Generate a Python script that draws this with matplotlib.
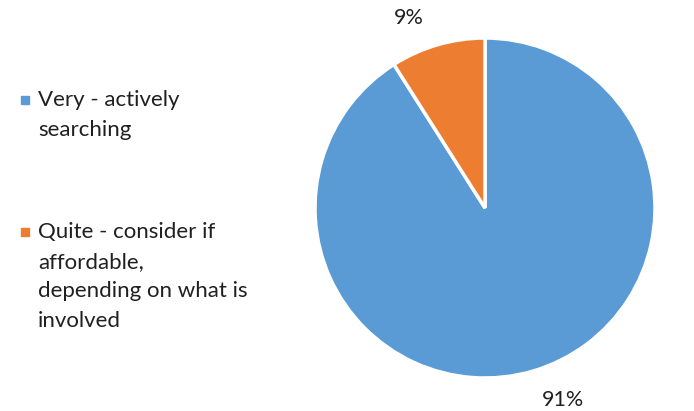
import matplotlib.pyplot as plt
from matplotlib.patches import Rectangle

labels = ['Very - actively\nsearching',
          'Quite - consider if\naffordable,\ndepending on what is\ninvolved']
values = [91, 9]
colors = ['#5B9BD5', '#ED7D31']

W, H = 694, 411
fig = plt.figure(figsize=(W / 100, H / 100), dpi=100)
plt.rcParams['font.family'] = ['Lato', 'DejaVu Sans']

# pie: centre (485, 208) px, radius 170 px
cx, cy, r = 485, 208, 170
ax = fig.add_axes([(cx - r) / W, (H - cy - r) / H, 2 * r / W, 2 * r / H])
wedges, texts = ax.pie(values, colors=colors, startangle=90, counterclock=False,
                       labels=[f'{v}%' for v in values], labeldistance=1.12,
                       wedgeprops={'edgecolor': 'white', 'linewidth': 2.5},
                       textprops={'fontsize': 15.5, 'color': '#202020'})
ax.set_xlim(-1, 1)
ax.set_ylim(-1, 1)
ax.set_aspect('equal')

# excel places outside-end labels a bit further round
texts[0].set_position((0.46, -1.13))
texts[0].set_ha('center')
texts[0].set_va('center')
texts[1].set_position((-0.45, 1.12))
texts[1].set_ha('center')
texts[1].set_va('center')

# legend, drawn by hand so the marker sits on the first line
tops = [90, 222]
for lab, col, top in zip(labels, colors, tops):
    fig.text(38 / W, 1 - top / H, lab, ha='left', va='top', fontsize=16,
             linespacing=1.6, color='#202020')
    fig.patches.append(Rectangle((21 / W, 1 - (top + 14) / H), 8 / W, 8 / H,
                                 transform=fig.transFigure, color=col))

fig.savefig('out.png', dpi=100)
